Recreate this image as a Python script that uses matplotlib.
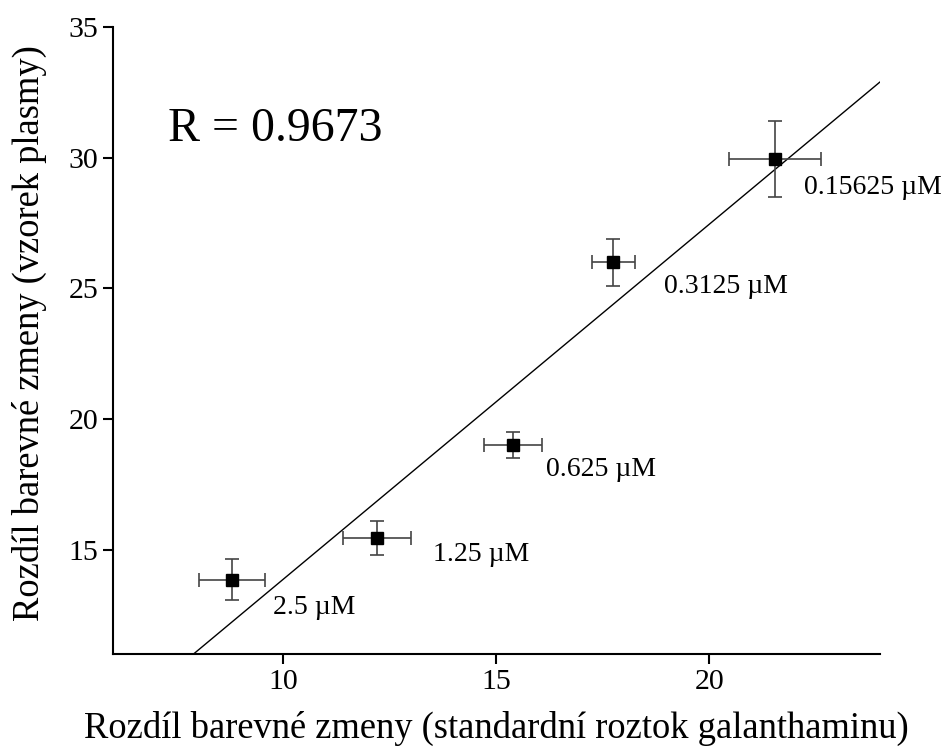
import numpy as np
import matplotlib
matplotlib.use('Agg')
import matplotlib.pyplot as plt

# data
x_std = [8.8, 12.2, 15.4, 17.75, 21.55]
y_plasma = [13.85, 15.45, 19.0, 26.0, 29.95]
x_err = [0.78, 0.8, 0.68, 0.5, 1.08]
y_err = [0.78, 0.65, 0.5, 0.9, 1.45]
labels = ['2.5 \u00b5M', '1.25 \u00b5M', '0.625 \u00b5M', '0.3125 \u00b5M', '0.15625 \u00b5M']
label_x = [9.77, 13.52, 16.17, 18.94, 22.23]
label_y = [12.8, 14.8, 18.08, 25.08, 28.85]

plt.rcParams['font.family'] = ['Liberation Serif', 'DejaVu Serif']

fig = plt.figure(figsize=(9.48, 7.51), dpi=100)
ax = fig.add_axes([0.119, 0.129, 0.809, 0.835])

# linear fit line across the plot
slope, intercept = np.polyfit(x_std, y_plasma, 1)
xx = np.array([6, 24])
ax.plot(xx, slope * xx + intercept, color='black', lw=1)

ax.errorbar(x_std, y_plasma, xerr=x_err, yerr=y_err, fmt='s', color='black',
            ms=9, ecolor='#444444', elinewidth=1.2, capsize=5, capthick=1.2, zorder=3)

for lx, ly, t in zip(label_x, label_y, labels):
    ax.text(lx, ly, t, fontsize=20, va='center', ha='left')

ax.text(7.3, 31.1, 'R = 0.9673', fontsize=34.5, va='center', ha='left')

ax.set_xlim(6, 24)
ax.set_ylim(11, 35)
ax.set_xticks([10, 15, 20])
ax.set_yticks([15, 20, 25, 30, 35])
ax.spines['top'].set_visible(False)
ax.spines['right'].set_visible(False)
ax.spines['left'].set_linewidth(1.5)
ax.spines['bottom'].set_linewidth(1.5)
ax.tick_params(direction='out', length=7, width=1.5, labelsize=21.5)

ax.set_xlabel('Rozdíl barevné zmeny (standardní roztok galanthaminu)', fontsize=26.3, labelpad=12)
ax.set_ylabel('Rozdíl barevné zmeny (vzorek plasmy)', fontsize=26.3)
ax.yaxis.set_label_coords(-0.086, 0.512)

fig.savefig('out.png', dpi=100)
